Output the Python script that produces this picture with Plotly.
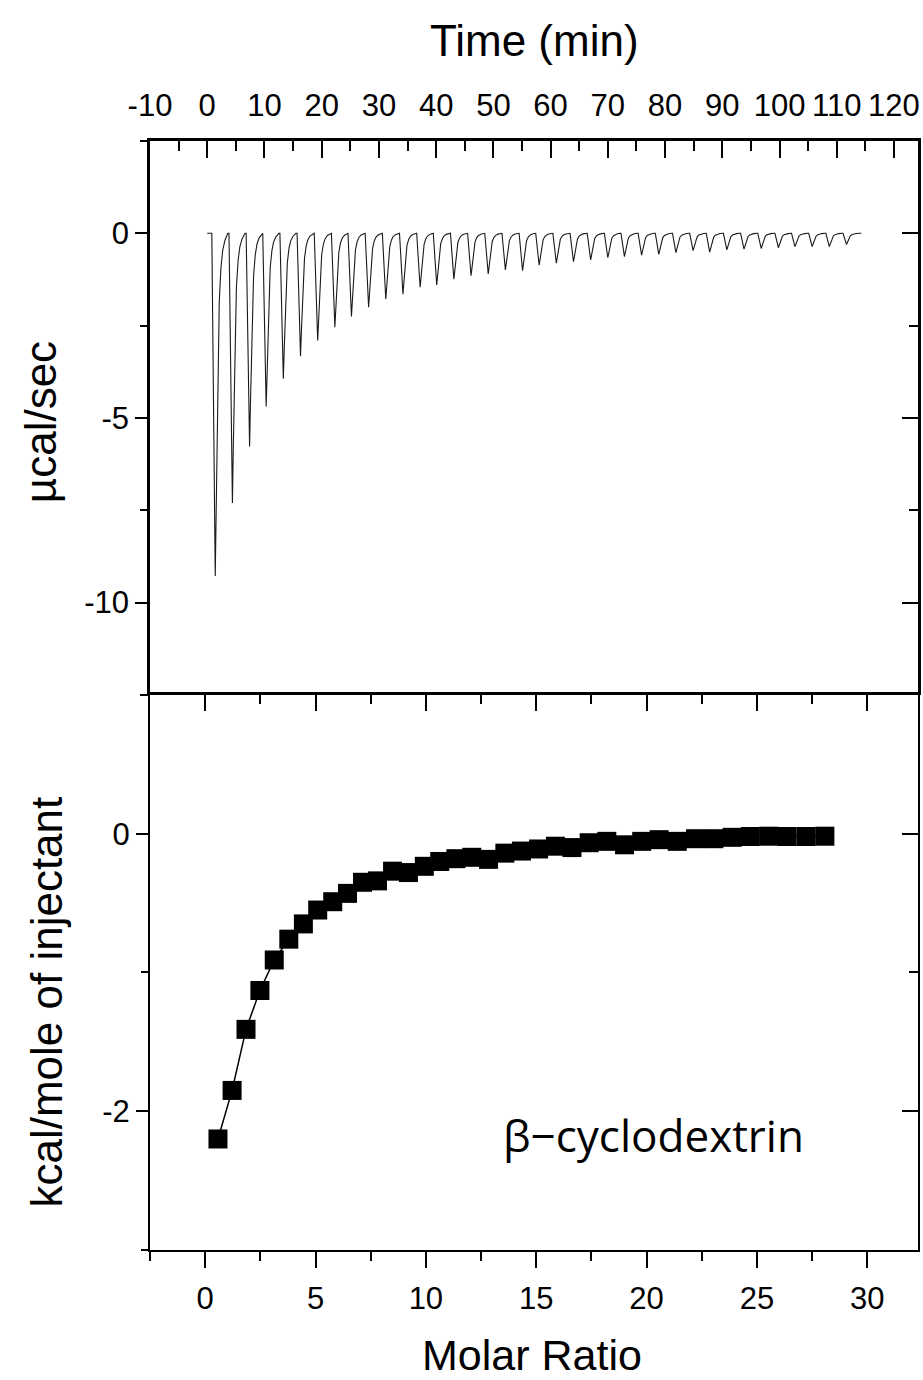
import plotly.graph_objects as go

# ---------------- data ----------------
# Upper panel: raw ITC thermogram (injection times in min, peak minima in µcal/sec)
INJ_TIME = [1.4, 4.4, 7.4, 10.3, 13.3, 16.3, 19.3, 22.3, 25.2, 28.2,
            31.2, 34.2, 37.2, 40.1, 43.1, 46.1, 49.1, 52.1, 55.1, 58.0,
            61.0, 64.0, 67.0, 70.0, 72.9, 75.9, 78.9, 81.9, 84.9, 87.8,
            90.8, 93.8, 96.8, 99.8, 102.7, 105.7, 108.7, 111.7]
PEAK_DEPTH = [-9.28, -7.30, -5.77, -4.69, -3.94, -3.33, -2.90, -2.54, -2.25, -2.00,
              -1.78, -1.65, -1.46, -1.40, -1.24, -1.15, -1.10, -0.99, -1.01, -0.86,
              -0.81, -0.77, -0.72, -0.66, -0.63, -0.59, -0.57, -0.52, -0.47, -0.51,
              -0.45, -0.43, -0.41, -0.39, -0.36, -0.36, -0.36, -0.30]
BASELINE_START = 0.0
BASELINE_END = 114.3
# shape of one injection peak (min offset, fraction of depth)
PEAK_OFFSET = [-0.6, 0.0, 0.15, 0.35, 0.5, 0.7, 1.0, 1.3, 1.7, 2.2]
PEAK_SHAPE = [0.0, 1.0, 0.80, 0.58, 0.38, 0.20, 0.10, 0.05, 0.02, 0.0]

# Lower panel: integrated heats
MOLAR_RATIO = [0.58, 1.22, 1.85, 2.48, 3.13, 3.79, 4.45, 5.10, 5.78, 6.45,
               7.13, 7.81, 8.49, 9.21, 9.93, 10.63, 11.36, 12.08, 12.84, 13.58,
               14.33, 15.11, 15.87, 16.62, 17.40, 18.20, 19.00, 19.78, 20.57, 21.39,
               22.22, 23.05, 23.88, 24.70, 25.54, 26.37, 27.23, 28.08]
HEAT = [-2.20, -1.85, -1.41, -1.13, -0.91, -0.76, -0.65, -0.55, -0.49, -0.43,
        -0.35, -0.34, -0.27, -0.28, -0.235, -0.20, -0.18, -0.17, -0.185, -0.14,
        -0.125, -0.11, -0.09, -0.10, -0.065, -0.055, -0.08, -0.055, -0.043, -0.055,
        -0.036, -0.036, -0.026, -0.020, -0.018, -0.020, -0.020, -0.018]

# tick labels
TIME_TICKS = [-10, 0, 10, 20, 30, 40, 50, 60, 70, 80, 90, 100, 110, 120]
TIME_LABELS = ["-10", "0", "10", "20", "30", "40", "50", "60", "70", "80",
               "90", "100", "110", "120"]
POWER_TICKS = [-10, -5, 0]
POWER_LABELS = ["-10", "-5", "0"]
RATIO_TICKS = [0, 5, 10, 15, 20, 25, 30]
RATIO_LABELS = ["0", "5", "10", "15", "20", "25", "30"]
HEAT_TICKS = [-2, 0]
HEAT_LABELS = ["-2", "0"]

LABEL = "β−cyclodextrin"

# ---------------- build thermogram line ----------------
tx, ty = [BASELINE_START], [0.0]
for t, d in zip(INJ_TIME, PEAK_DEPTH):
    for o, s in zip(PEAK_OFFSET, PEAK_SHAPE):
        tx.append(t + o)
        ty.append(d * s)
tx.append(BASELINE_END)
ty.append(0.0)

FONT = "Liberation Sans, Arial, sans-serif"
TICKFONT = "Liberation Sans Narrow, Arial Narrow, Liberation Sans, Arial, sans-serif"
SPLIT = 0.5005

fig = go.Figure()
fig.add_trace(go.Scatter(x=tx, y=ty, mode="lines",
                         line=dict(color="#1a1a1a", width=1.1),
                         xaxis="x", yaxis="y", showlegend=False, hoverinfo="skip"))
fig.add_trace(go.Scatter(x=MOLAR_RATIO, y=HEAT, mode="lines+markers",
                         line=dict(color="black", width=1.5),
                         marker=dict(symbol="square", size=19, color="black",
                                     line=dict(width=0)),
                         xaxis="x2", yaxis="y2", showlegend=False))
# empty traces so the mirror axes get their own subplots
fig.add_trace(go.Scatter(x=[], y=[], xaxis="x", yaxis="y3", showlegend=False))
fig.add_trace(go.Scatter(x=[], y=[], xaxis="x3", yaxis="y2", showlegend=False))
fig.add_trace(go.Scatter(x=[], y=[], xaxis="x2", yaxis="y4", showlegend=False))

tickfont = dict(family=TICKFONT, size=31, color="black")


def ax(**kw):
    base = dict(showline=True, linecolor="black", showgrid=False, zeroline=False,
                tickcolor="black", tickwidth=2, tickfont=tickfont, fixedrange=True)
    base.update(kw)
    return base


def minor(ticks, length, t0, dt):
    return dict(ticks=ticks, ticklen=length, tickwidth=2, tickcolor="black",
                tickmode="linear", tick0=t0, dtick=dt)


fig.update_layout(
    width=923, height=1380,
    margin=dict(l=150, r=3, t=141, b=130),
    paper_bgcolor="white", plot_bgcolor="white",
    xaxis=ax(domain=[0, 1], anchor="y", side="top", range=[-10, 124.2],
             tickmode="array", tickvals=TIME_TICKS, ticktext=TIME_LABELS,
             ticks="inside", ticklen=17, linewidth=2.5, ticklabelstandoff=10,
             minor=minor("inside", 10, -10, 5)),
    yaxis=ax(domain=[SPLIT, 1], anchor="x", range=[-12.5, 2.5],
             tickmode="array", tickvals=POWER_TICKS, ticktext=POWER_LABELS,
             ticks="outside", ticklen=12, linewidth=2.5,
             minor=minor("outside", 7, 0, 2.5)),
    yaxis3=ax(overlaying="y", side="right", anchor="x", range=[-12.5, 2.5],
              tickmode="array", tickvals=POWER_TICKS, ticks="inside", ticklen=16,
              linewidth=2.5, showticklabels=False,
              minor=minor("inside", 9, 0, 2.5)),
    xaxis2=ax(domain=[0, 1], anchor="y2", side="bottom", range=[-2.5, 32.3],
              tickmode="array", tickvals=RATIO_TICKS, ticktext=RATIO_LABELS,
              ticks="outside", ticklen=16, linewidth=2, ticklabelstandoff=4,
              minor=minor("outside", 9, 0, 2.5)),
    xaxis3=ax(overlaying="x2", anchor="y2", side="top", range=[-2.5, 32.3],
              tickmode="array", tickvals=RATIO_TICKS, ticks="inside", ticklen=16,
              linewidth=2.5, showticklabels=False,
              minor=minor("inside", 9, 0, 2.5)),
    yaxis2=ax(domain=[0, SPLIT], anchor="x2", range=[-3, 1],
              tickmode="array", tickvals=HEAT_TICKS, ticktext=HEAT_LABELS,
              ticks="outside", ticklen=12, linewidth=2,
              minor=minor("outside", 7, 0, 1)),
    yaxis4=ax(overlaying="y2", side="right", anchor="x2", range=[-3, 1],
              tickmode="array", tickvals=HEAT_TICKS, ticks="inside", ticklen=16,
              linewidth=2, showticklabels=False,
              minor=minor("inside", 9, 0, 1)),
    annotations=[
        dict(text="Time (min)", xref="paper", yref="paper", x=0.5, y=1.091,
             xanchor="center", yanchor="middle", showarrow=False,
             font=dict(family=FONT, size=44, color="black")),
        dict(text="µcal/sec", xref="paper", yref="paper", x=-0.143, y=0.7466,
             xanchor="center", yanchor="middle", textangle=-90, showarrow=False,
             font=dict(family=FONT, size=44, color="black")),
        dict(text="kcal/mole of injectant", xref="paper", yref="paper", x=-0.136,
             y=0.2236, xanchor="center", yanchor="middle", textangle=-90,
             showarrow=False, font=dict(family=FONT, size=44, color="black")),
        dict(text="Molar Ratio", xref="paper", yref="paper", x=0.498, y=-0.0946,
             xanchor="center", yanchor="middle", showarrow=False,
             font=dict(family=FONT, size=43, color="black")),
        dict(text=LABEL, xref="paper", yref="paper", x=0.656, y=0.1037,
             xanchor="center", yanchor="middle", showarrow=False,
             font=dict(family="Open Sans, sans-serif", size=44, color="black")),
    ],
)

fig.write_html("out.html", config={"displayModeBar": False},
               post_script="document.body.style.margin='0';")
